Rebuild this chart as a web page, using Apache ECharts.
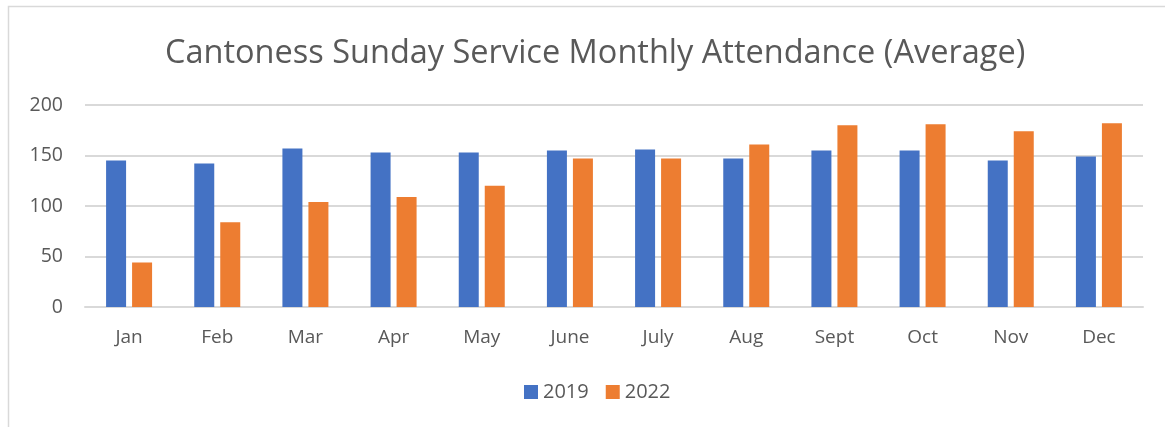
<!DOCTYPE html>
<html>
<head>
<meta charset="utf-8">
<script src="https://cdn.jsdelivr.net/npm/echarts@6/dist/echarts.min.js"></script>
<style>
  html, body { margin: 0; padding: 0; background: #fff; }
  #echarts { width: 1165px; height: 427px; }
</style>
</head>
<body>
<div id="echarts"></div>
<script>
var months = ['Jan', 'Feb', 'Mar', 'Apr', 'May', 'June', 'July', 'Aug', 'Sept', 'Oct', 'Nov', 'Dec'];
var att2019 = [145, 142, 157, 153, 153, 155, 156, 147, 155, 155, 145, 149];
var att2022 = [44, 84, 104, 109, 120, 147, 147, 161, 180, 181, 174, 182];
var yTicks = [0, 50, 100, 150, 200];

var myChart = echarts.init(document.getElementById('echarts'));

var font = 'Open Sans';

option = {
  backgroundColor: '#fff',
  textStyle: { fontFamily: font },
  // chart frame (only top and left edges fall inside the picture)
  graphic: [{
    type: 'rect',
    shape: { x: 8.5, y: 6.5, width: 1200, height: 460 },
    style: { fill: 'none', stroke: '#d9d9d9', lineWidth: 1.5 }
  }],
  title: {
    text: 'Cantoness Sunday Service Monthly Attendance (Average)',
    left: 160,
    top: 32,
    textStyle: { color: '#595959', fontSize: 32.5, fontWeight: 'normal', fontFamily: font }
  },
  legend: {
    bottom: 20,
    left: 519,
    itemWidth: 14,
    itemHeight: 14,
    itemGap: 17,
    icon: 'rect',
    textStyle: { color: '#595959', fontSize: 20, fontFamily: font },
    data: ['2019', '2022']
  },
  grid: { left: 85, right: 22, top: 105, height: 202 },
  xAxis: {
    type: 'category',
    data: months,
    axisLine: { lineStyle: { color: '#d9d9d9', width: 2 } },
    axisTick: { show: false },
    axisLabel: { color: '#595959', fontSize: 19, margin: 21 }
  },
  yAxis: {
    type: 'value',
    min: yTicks[0],
    max: yTicks[yTicks.length - 1],
    interval: 50,
    axisLine: { show: false },
    axisTick: { show: false },
    splitLine: { lineStyle: { color: '#d9d9d9', width: 2 } },
    axisLabel: { color: '#595959', fontSize: 19.5, margin: 22 }
  },
  series: [
    {
      name: '2019',
      type: 'bar',
      data: att2019,
      barWidth: 20,
      barGap: '30%',
      itemStyle: { color: '#4472c4' }
    },
    {
      name: '2022',
      type: 'bar',
      data: att2022,
      barWidth: 20,
      barGap: '30%',
      itemStyle: { color: '#ed7d31' }
    }
  ]
};

myChart.setOption(option);
</script>
</body>
</html>
